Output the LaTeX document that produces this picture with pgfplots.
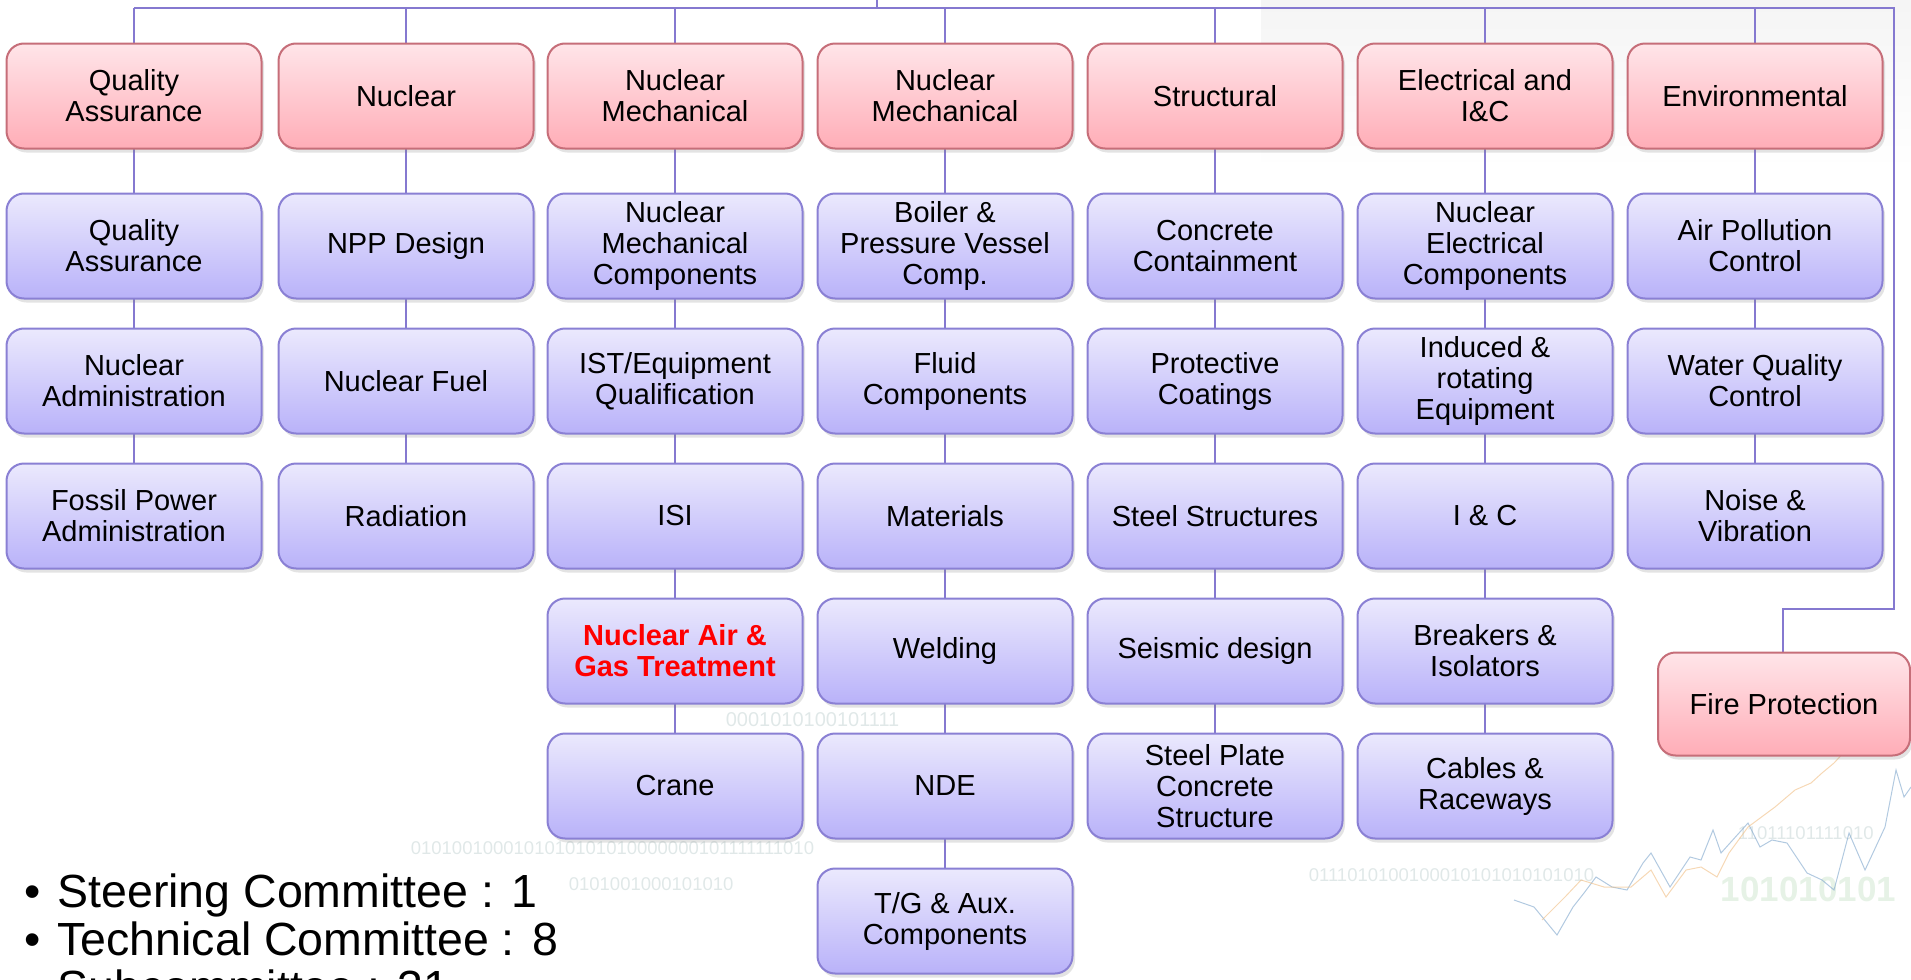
\documentclass[border=0pt]{standalone}
\usepackage{pgfplots}
\pgfplotsset{compat=1.18}
\usepackage{fontspec}
\setmainfont{Liberation Sans}
\usetikzlibrary{shadows}
\definecolor{redtop}{HTML}{FFE5E9}
\definecolor{redbot}{HTML}{FFADB7}
\definecolor{redborder}{HTML}{C66E79}
\definecolor{bluetop}{HTML}{EBE9FD}
\definecolor{bluebot}{HTML}{B9B2F9}
\definecolor{blueborder}{HTML}{8A80D4}
\definecolor{conn}{HTML}{8579D0}
\definecolor{wm}{HTML}{E0E8E8}
\definecolor{wmgreen}{HTML}{E6F2E6}
\definecolor{chartblue}{HTML}{7FA6CC}
\definecolor{chartorange}{HTML}{F0BE84}
\newcommand\boxfont{\fontsize{11.6}{12.4}\selectfont}
\newcommand\listfont{\fontsize{18.6}{18.6}\selectfont}
\begin{document}
\begin{tikzpicture}[
  box/.style={line width=0.8pt, rounded corners=7pt, minimum width=102pt,
    minimum height=42pt, align=center, font=\boxfont, inner sep=1pt,
    drop shadow={opacity=0.22, shadow xshift=1pt, shadow yshift=-1.6pt}},
  redbox/.style={box, draw=redborder, top color=redtop, bottom color=redbot},
  bluebox/.style={box, draw=blueborder, top color=bluetop, bottom color=bluebot},
  cn/.style={draw=conn, line width=0.8pt},
  li/.style={anchor=base west, inner sep=0pt, font=\listfont}]
\begin{axis}[width=764.4pt, height=392pt, scale only axis,
  xmin=0, xmax=1911, ymin=0, ymax=980, y dir=reverse,
  axis lines=none, ticks=none, clip=false]
% faint background
\fill[top color=black!4, bottom color=white, draw=none] (axis cs:1261,0) rectangle (axis cs:1911,170);
\node[anchor=west, text=wm, font=\fontsize{8}{8}\selectfont] at (axis cs:717,720) {0001010100101111};
\node[anchor=west, text=wm, font=\fontsize{7.4}{7.4}\selectfont] at (axis cs:402,848) {0101001000101010101010000000101111111010};
\node[anchor=west, text=wm, font=\fontsize{7.4}{7.4}\selectfont] at (axis cs:560,884) {0101001000101010};
\node[anchor=west, text=wm, font=\fontsize{7.4}{7.4}\selectfont] at (axis cs:1300,875) {0111010100100010101010101010};
\node[anchor=west, text=wm, font=\fontsize{7.4}{7.4}\selectfont] at (axis cs:1729,833) {11011101111010};
\node[anchor=west, text=wmgreen, font=\bfseries\fontsize{14}{14}\selectfont] at (axis cs:1712,889) {101010101};
\addplot[chartblue, line width=0.4pt, opacity=0.6] coordinates {
(1514,900) (1534,907) (1557,935) (1573,907) (1584,893) (1596,877) (1612,887)
(1627,890) (1643,863) (1651,853) (1670,887) (1690,857) (1701,860) (1713,830)
(1721,853) (1748,823) (1760,847) (1772,840) (1787,843) (1807,873) (1822,880)
(1834,890) (1849,833) (1865,870) (1885,827) (1896,770) (1904,797) (1911,787)};
\addplot[chartorange, line width=0.4pt, opacity=0.6] coordinates {
(1542,920) (1565,897) (1581,880) (1604,887) (1631,887) (1651,870) (1666,897)
(1686,870) (1701,867) (1717,877) (1729,853) (1748,827) (1775,807) (1795,790)
(1811,783) (1822,773) (1834,763) (1846,750)};
% connectors
\draw[cn] (axis cs:877,0) -- (axis cs:877,8);
\draw[cn] (axis cs:134,8) -- (axis cs:1894,8) -- (axis cs:1894,609) -- (axis cs:1783,609) -- (axis cs:1783,660);
\draw[cn] (axis cs:134,8) -- (axis cs:134,516);
\draw[cn] (axis cs:406,8) -- (axis cs:406,516);
\draw[cn] (axis cs:675,8) -- (axis cs:675,786);
\draw[cn] (axis cs:945,8) -- (axis cs:945,921);
\draw[cn] (axis cs:1215,8) -- (axis cs:1215,786);
\draw[cn] (axis cs:1485,8) -- (axis cs:1485,786);
\draw[cn] (axis cs:1755,8) -- (axis cs:1755,516);
% technical committees
\node[redbox] at (axis cs:134,96) {Quality\\Assurance};
\node[redbox] at (axis cs:406,96) {Nuclear};
\node[redbox] at (axis cs:675,96) {Nuclear\\Mechanical};
\node[redbox] at (axis cs:945,96) {Nuclear\\Mechanical};
\node[redbox] at (axis cs:1215,96) {Structural};
\node[redbox] at (axis cs:1485,96) {Electrical and\\I\&C};
\node[redbox] at (axis cs:1755,96) {Environmental};
\node[redbox, minimum width=100.8pt, minimum height=41.2pt] at (axis cs:1784,704) {Fire Protection};
% column 1
\node[bluebox] at (axis cs:134,246) {Quality\\Assurance};
\node[bluebox] at (axis cs:134,381) {Nuclear\\Administration};
\node[bluebox] at (axis cs:134,516) {Fossil Power\\Administration};
% column 2
\node[bluebox] at (axis cs:406,246) {NPP Design};
\node[bluebox] at (axis cs:406,381) {Nuclear Fuel};
\node[bluebox] at (axis cs:406,516) {Radiation};
% column 3
\node[bluebox] at (axis cs:675,246) {Nuclear\\Mechanical\\Components};
\node[bluebox] at (axis cs:675,381) {IST/Equipment\\Qualification};
\node[bluebox] at (axis cs:675,516) {ISI};
\node[bluebox, text=red, font=\boxfont\bfseries] at (axis cs:675,651) {Nuclear Air \&\\Gas Treatment};
\node[bluebox] at (axis cs:675,786) {Crane};
% column 4
\node[bluebox] at (axis cs:945,246) {Boiler \&\\Pressure Vessel\\Comp.};
\node[bluebox] at (axis cs:945,381) {Fluid\\Components};
\node[bluebox] at (axis cs:945,516) {Materials};
\node[bluebox] at (axis cs:945,651) {Welding};
\node[bluebox] at (axis cs:945,786) {NDE};
\node[bluebox] at (axis cs:945,921) {T/G \& Aux.\\Components};
% column 5
\node[bluebox] at (axis cs:1215,246) {Concrete\\Containment};
\node[bluebox] at (axis cs:1215,381) {Protective\\Coatings};
\node[bluebox] at (axis cs:1215,516) {Steel Structures};
\node[bluebox] at (axis cs:1215,651) {Seismic design};
\node[bluebox] at (axis cs:1215,786) {Steel Plate\\Concrete\\Structure};
% column 6
\node[bluebox] at (axis cs:1485,246) {Nuclear\\Electrical\\Components};
\node[bluebox] at (axis cs:1485,381) {Induced \&\\rotating\\Equipment};
\node[bluebox] at (axis cs:1485,516) {I \& C};
\node[bluebox] at (axis cs:1485,651) {Breakers \&\\Isolators};
\node[bluebox] at (axis cs:1485,786) {Cables \&\\Raceways};
% column 7
\node[bluebox] at (axis cs:1755,246) {Air Pollution\\Control};
\node[bluebox] at (axis cs:1755,381) {Water Quality\\Control};
\node[bluebox] at (axis cs:1755,516) {Noise \&\\Vibration};
% bullet list
\node[li] at (axis cs:24,907) {•};
\node[li] at (axis cs:57,907) {Steering Committee : 1};
\node[li] at (axis cs:24,955) {•};
\node[li] at (axis cs:57,955) {Technical Committee : 8};
\node[li] at (axis cs:24,1003) {•};
\node[li] at (axis cs:57,1003) {Subcommittee : 31};
\end{axis}
\pgfresetboundingbox
\path[use as bounding box] (current axis.south west) rectangle (current axis.north east);
\end{tikzpicture}
\end{document}
